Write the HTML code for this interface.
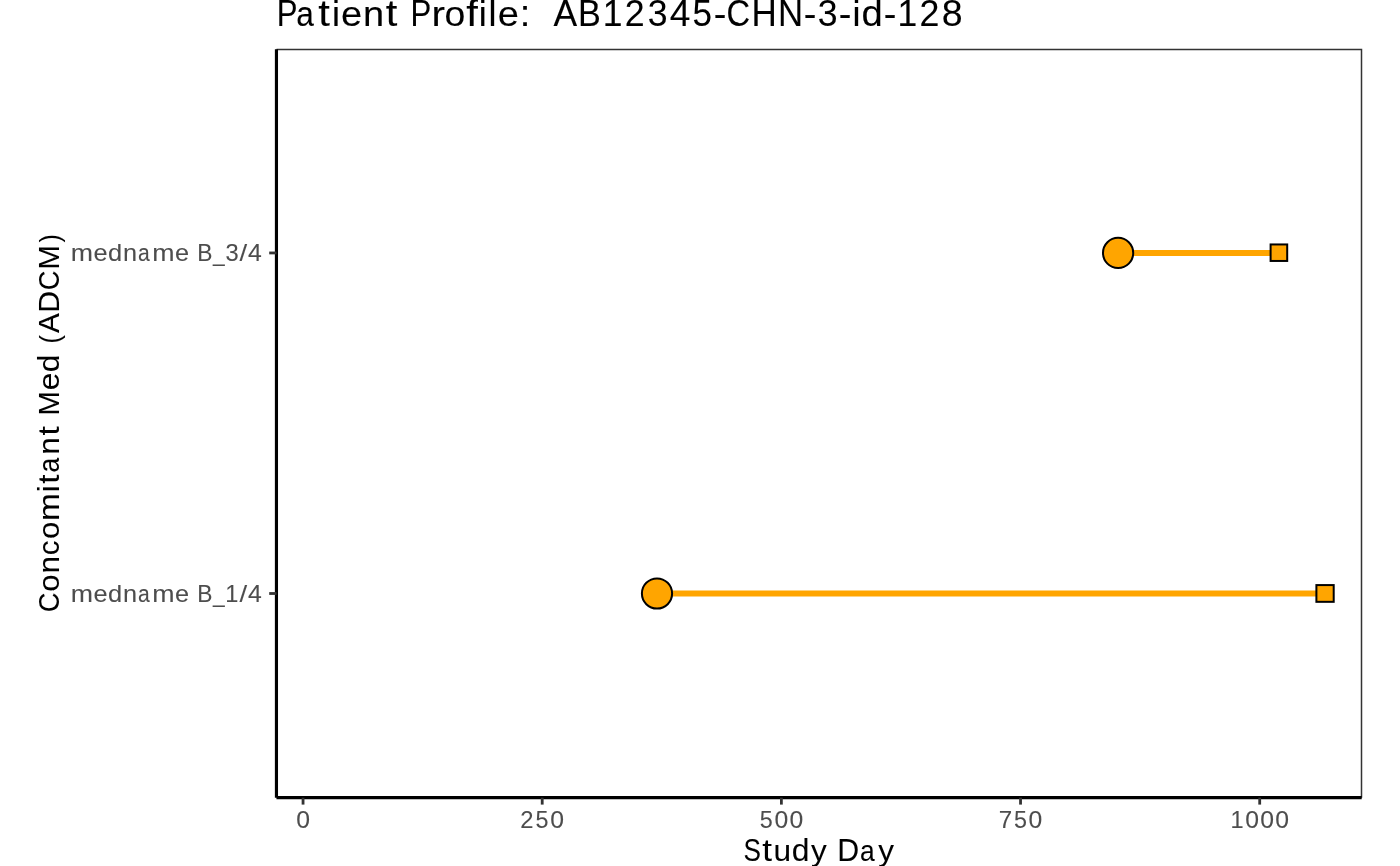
<!DOCTYPE html>
<html>
<head>
<meta charset="utf-8">
<title>Patient Profile: AB12345-CHN-3-id-128</title>
<style>
html,body{margin:0;padding:0;background:#fff;width:1400px;height:866px;overflow:hidden}
svg{display:block;will-change:transform}
text{font-family:"Liberation Sans", sans-serif;font-variant-ligatures:none;font-kerning:none}
</style>
</head>
<body>
<svg width="1400" height="866" viewBox="0 0 1400 866">
<rect x="0" y="0" width="1400" height="866" fill="#ffffff"/>
<text xml:space="preserve" transform="translate(275.96,26)" y="0" fill="#000000" stroke="#000000" stroke-width="0.1"><tspan x="0.90" font-size="36.30" textLength="20.76" lengthAdjust="spacingAndGlyphs">P</tspan><tspan x="20.41" font-size="35.30" textLength="17.60" lengthAdjust="spacingAndGlyphs">a</tspan><tspan x="42.21" font-size="36.30" textLength="11.60" lengthAdjust="spacingAndGlyphs">t</tspan><tspan x="55.93" font-size="35.30" textLength="7.99" lengthAdjust="spacingAndGlyphs">i</tspan><tspan x="65.12" font-size="35.30" textLength="21.15" lengthAdjust="spacingAndGlyphs">e</tspan><tspan x="87.13" font-size="35.30" textLength="21.11" lengthAdjust="spacingAndGlyphs">n</tspan><tspan x="109.75" font-size="36.30" textLength="11.60" lengthAdjust="spacingAndGlyphs">t</tspan><tspan x="122.56"> </tspan><tspan x="134.65" font-size="36.30" textLength="20.76" lengthAdjust="spacingAndGlyphs">P</tspan><tspan x="155.43" font-size="35.30" textLength="13.52" lengthAdjust="spacingAndGlyphs">r</tspan><tspan x="168.43" font-size="35.30" textLength="20.81" lengthAdjust="spacingAndGlyphs">o</tspan><tspan x="190.41" font-size="36.30" textLength="11.60" lengthAdjust="spacingAndGlyphs">f</tspan><tspan x="202.90" font-size="35.30" textLength="7.99" lengthAdjust="spacingAndGlyphs">i</tspan><tspan x="212.66" font-size="36.30" textLength="7.99" lengthAdjust="spacingAndGlyphs">l</tspan><tspan x="221.87" font-size="35.30" textLength="21.15" lengthAdjust="spacingAndGlyphs">e</tspan><tspan x="243.85" font-size="36.30" textLength="10.58" lengthAdjust="spacingAndGlyphs">:</tspan><tspan x="255.06"> </tspan><tspan x="266.25"> </tspan><tspan x="277.65" font-size="36.30" textLength="23.65" lengthAdjust="spacingAndGlyphs">A</tspan><tspan x="302.17" font-size="36.30" textLength="22.81" lengthAdjust="spacingAndGlyphs">B</tspan><tspan x="326.84" font-size="36.30" textLength="19.71" lengthAdjust="spacingAndGlyphs">1</tspan><tspan x="348.84" font-size="36.30" textLength="19.89" lengthAdjust="spacingAndGlyphs">2</tspan><tspan x="371.78" font-size="36.30" textLength="19.82" lengthAdjust="spacingAndGlyphs">3</tspan><tspan x="393.72" font-size="36.30" textLength="20.64" lengthAdjust="spacingAndGlyphs">4</tspan><tspan x="416.56" font-size="36.30" textLength="19.48" lengthAdjust="spacingAndGlyphs">5</tspan><tspan x="437.68" font-size="36.30" textLength="12.64" lengthAdjust="spacingAndGlyphs">-</tspan><tspan x="450.66" font-size="36.30" textLength="23.60" lengthAdjust="spacingAndGlyphs">C</tspan><tspan x="475.51" font-size="36.30" textLength="25.29" lengthAdjust="spacingAndGlyphs">H</tspan><tspan x="502.00" font-size="36.30" textLength="25.11" lengthAdjust="spacingAndGlyphs">N</tspan><tspan x="527.76" font-size="36.30" textLength="12.64" lengthAdjust="spacingAndGlyphs">-</tspan><tspan x="541.75" font-size="36.30" textLength="19.82" lengthAdjust="spacingAndGlyphs">3</tspan><tspan x="562.85" font-size="36.30" textLength="12.64" lengthAdjust="spacingAndGlyphs">-</tspan><tspan x="576.43" font-size="35.30" textLength="7.99" lengthAdjust="spacingAndGlyphs">i</tspan><tspan x="585.64" font-size="36.30" textLength="21.28" lengthAdjust="spacingAndGlyphs">d</tspan><tspan x="607.68" font-size="36.30" textLength="12.64" lengthAdjust="spacingAndGlyphs">-</tspan><tspan x="621.52" font-size="36.30" textLength="19.71" lengthAdjust="spacingAndGlyphs">1</tspan><tspan x="643.52" font-size="36.30" textLength="19.89" lengthAdjust="spacingAndGlyphs">2</tspan><tspan x="665.90" font-size="36.30" textLength="20.86" lengthAdjust="spacingAndGlyphs">8</tspan></text>
<path d="M276.5 49.4 H1361.5 V797.7" fill="none" stroke="#333333" stroke-width="1.5"/>
<line x1="1118.1" y1="252.95" x2="1278.9" y2="252.95" stroke="#FFA500" stroke-width="6.0"/>
<circle cx="1118.1" cy="252.95" r="15.1" fill="#FFA500" stroke="#000" stroke-width="2.0"/>
<rect x="1270.60" y="244.45" width="16.60" height="16.50" fill="#FFA500" stroke="#000" stroke-width="2.0"/>
<line x1="657.0" y1="593.5" x2="1325.05" y2="593.5" stroke="#FFA500" stroke-width="6.0"/>
<circle cx="657.0" cy="593.5" r="15.1" fill="#FFA500" stroke="#000" stroke-width="2.0"/>
<rect x="1316.40" y="585.08" width="17.30" height="16.75" fill="#FFA500" stroke="#000" stroke-width="2.0"/>
<line x1="276.45" y1="49.3" x2="276.45" y2="797.7" stroke="#000" stroke-width="3.15"/>
<line x1="276.45" y1="797.7" x2="1361.7" y2="797.7" stroke="#000" stroke-width="3.2"/>
<line x1="269.2" y1="252.95" x2="276.5" y2="252.95" stroke="#333333" stroke-width="2.8"/>
<line x1="269.2" y1="593.5" x2="276.5" y2="593.5" stroke="#333333" stroke-width="2.8"/>
<line x1="303.05" y1="797.7" x2="303.05" y2="804.6" stroke="#333333" stroke-width="2.8"/>
<line x1="542.21" y1="797.7" x2="542.21" y2="804.6" stroke="#333333" stroke-width="2.8"/>
<line x1="781.38" y1="797.7" x2="781.38" y2="804.6" stroke="#333333" stroke-width="2.8"/>
<line x1="1020.54" y1="797.7" x2="1020.54" y2="804.6" stroke="#333333" stroke-width="2.8"/>
<line x1="1259.70" y1="797.7" x2="1259.70" y2="804.6" stroke="#333333" stroke-width="2.8"/>
<text xml:space="preserve" transform="translate(70.50,261)" y="0" fill="#4D4D4D" stroke="#4D4D4D" stroke-width="0.08"><tspan x="0.36" font-size="23.90" textLength="22.27" lengthAdjust="spacingAndGlyphs">m</tspan><tspan x="23.08" font-size="23.90" textLength="14.10" lengthAdjust="spacingAndGlyphs">e</tspan><tspan x="37.52" font-size="23.90" textLength="14.18" lengthAdjust="spacingAndGlyphs">d</tspan><tspan x="52.64" font-size="23.90" textLength="14.07" lengthAdjust="spacingAndGlyphs">n</tspan><tspan x="67.58" font-size="23.90" textLength="11.74" lengthAdjust="spacingAndGlyphs">a</tspan><tspan x="81.80" font-size="23.90" textLength="22.27" lengthAdjust="spacingAndGlyphs">m</tspan><tspan x="104.52" font-size="23.90" textLength="14.10" lengthAdjust="spacingAndGlyphs">e</tspan><tspan x="118.74"> </tspan><tspan x="126.64" font-size="23.90" textLength="15.21" lengthAdjust="spacingAndGlyphs">B</tspan><tspan x="142.39" font-size="23.90" textLength="11.64" lengthAdjust="spacingAndGlyphs">_</tspan><tspan x="154.92" font-size="23.90" textLength="13.21" lengthAdjust="spacingAndGlyphs">3</tspan><tspan x="169.10" font-size="23.90" textLength="7.64" lengthAdjust="spacingAndGlyphs">/</tspan><tspan x="177.45" font-size="23.90" textLength="13.76" lengthAdjust="spacingAndGlyphs">4</tspan></text>
<text xml:space="preserve" transform="translate(70.50,602)" y="0" fill="#4D4D4D" stroke="#4D4D4D" stroke-width="0.08"><tspan x="0.36" font-size="23.90" textLength="22.27" lengthAdjust="spacingAndGlyphs">m</tspan><tspan x="23.08" font-size="23.90" textLength="14.10" lengthAdjust="spacingAndGlyphs">e</tspan><tspan x="37.52" font-size="23.90" textLength="14.18" lengthAdjust="spacingAndGlyphs">d</tspan><tspan x="52.64" font-size="23.90" textLength="14.07" lengthAdjust="spacingAndGlyphs">n</tspan><tspan x="67.58" font-size="23.90" textLength="11.74" lengthAdjust="spacingAndGlyphs">a</tspan><tspan x="81.80" font-size="23.90" textLength="22.27" lengthAdjust="spacingAndGlyphs">m</tspan><tspan x="104.52" font-size="23.90" textLength="14.10" lengthAdjust="spacingAndGlyphs">e</tspan><tspan x="118.74"> </tspan><tspan x="126.64" font-size="23.90" textLength="15.21" lengthAdjust="spacingAndGlyphs">B</tspan><tspan x="142.39" font-size="23.90" textLength="11.64" lengthAdjust="spacingAndGlyphs">_</tspan><tspan x="154.82" font-size="23.90" textLength="13.14" lengthAdjust="spacingAndGlyphs">1</tspan><tspan x="169.10" font-size="23.90" textLength="7.64" lengthAdjust="spacingAndGlyphs">/</tspan><tspan x="177.45" font-size="23.90" textLength="13.76" lengthAdjust="spacingAndGlyphs">4</tspan></text>
<text xml:space="preserve" transform="translate(295.58,828)" y="0" fill="#4D4D4D" stroke="#4D4D4D" stroke-width="0.08"><tspan x="0.58" font-size="23.90" textLength="13.76" lengthAdjust="spacingAndGlyphs">0</tspan></text>
<text xml:space="preserve" transform="translate(519.82,828)" y="0" fill="#4D4D4D" stroke="#4D4D4D" stroke-width="0.08"><tspan x="0.52" font-size="23.90" textLength="13.26" lengthAdjust="spacingAndGlyphs">2</tspan><tspan x="15.81" font-size="23.90" textLength="12.98" lengthAdjust="spacingAndGlyphs">5</tspan><tspan x="30.44" font-size="23.90" textLength="13.76" lengthAdjust="spacingAndGlyphs">0</tspan></text>
<text xml:space="preserve" transform="translate(758.98,828)" y="0" fill="#4D4D4D" stroke="#4D4D4D" stroke-width="0.08"><tspan x="0.88" font-size="23.90" textLength="12.98" lengthAdjust="spacingAndGlyphs">5</tspan><tspan x="15.51" font-size="23.90" textLength="13.76" lengthAdjust="spacingAndGlyphs">0</tspan><tspan x="30.44" font-size="23.90" textLength="13.76" lengthAdjust="spacingAndGlyphs">0</tspan></text>
<text xml:space="preserve" transform="translate(998.14,828)" y="0" fill="#4D4D4D" stroke="#4D4D4D" stroke-width="0.08"><tspan x="0.68" font-size="23.90" textLength="13.46" lengthAdjust="spacingAndGlyphs">7</tspan><tspan x="15.81" font-size="23.90" textLength="12.98" lengthAdjust="spacingAndGlyphs">5</tspan><tspan x="30.44" font-size="23.90" textLength="13.76" lengthAdjust="spacingAndGlyphs">0</tspan></text>
<text xml:space="preserve" transform="translate(1229.84,828)" y="0" fill="#4D4D4D" stroke="#4D4D4D" stroke-width="0.08"><tspan x="0.78" font-size="23.90" textLength="13.14" lengthAdjust="spacingAndGlyphs">1</tspan><tspan x="15.51" font-size="23.90" textLength="13.76" lengthAdjust="spacingAndGlyphs">0</tspan><tspan x="30.44" font-size="23.90" textLength="13.76" lengthAdjust="spacingAndGlyphs">0</tspan><tspan x="45.37" font-size="23.90" textLength="13.76" lengthAdjust="spacingAndGlyphs">0</tspan></text>
<text xml:space="preserve" transform="translate(742.83,861)" y="0" fill="#000000" stroke="#000000" stroke-width="0.06"><tspan x="0.75" font-size="30.50" textLength="17.44" lengthAdjust="spacingAndGlyphs">S</tspan><tspan x="19.40" font-size="30.50" textLength="9.74" lengthAdjust="spacingAndGlyphs">t</tspan><tspan x="30.56" font-size="30.30" textLength="17.59" lengthAdjust="spacingAndGlyphs">u</tspan><tspan x="48.99" font-size="30.50" textLength="17.73" lengthAdjust="spacingAndGlyphs">d</tspan><tspan x="68.13" font-size="30.30" textLength="15.75" lengthAdjust="spacingAndGlyphs">y</tspan><tspan x="84.69"> </tspan><tspan x="94.40" font-size="30.50" textLength="21.92" lengthAdjust="spacingAndGlyphs">D</tspan><tspan x="117.24" font-size="30.30" textLength="14.67" lengthAdjust="spacingAndGlyphs">a</tspan><tspan x="135.37" font-size="30.30" textLength="15.75" lengthAdjust="spacingAndGlyphs">y</tspan></text>
<text xml:space="preserve" transform="translate(59.10,612.57) rotate(-90)" y="0" fill="#000000" stroke="#000000" stroke-width="0.06"><tspan x="0.26" font-size="29.10" textLength="19.66" lengthAdjust="spacingAndGlyphs">C</tspan><tspan x="20.79" font-size="30.30" textLength="17.34" lengthAdjust="spacingAndGlyphs">o</tspan><tspan x="38.99" font-size="30.30" textLength="17.59" lengthAdjust="spacingAndGlyphs">n</tspan><tspan x="57.39" font-size="30.30" textLength="14.72" lengthAdjust="spacingAndGlyphs">c</tspan><tspan x="73.46" font-size="30.30" textLength="17.34" lengthAdjust="spacingAndGlyphs">o</tspan><tspan x="91.54" font-size="30.30" textLength="27.84" lengthAdjust="spacingAndGlyphs">m</tspan><tspan x="120.43" font-size="30.30" textLength="6.66" lengthAdjust="spacingAndGlyphs">i</tspan><tspan x="128.90" font-size="28.70" textLength="9.17" lengthAdjust="spacingAndGlyphs">t</tspan><tspan x="139.96" font-size="30.30" textLength="14.67" lengthAdjust="spacingAndGlyphs">a</tspan><tspan x="157.86" font-size="30.30" textLength="17.59" lengthAdjust="spacingAndGlyphs">n</tspan><tspan x="176.96" font-size="28.70" textLength="9.17" lengthAdjust="spacingAndGlyphs">t</tspan><tspan x="187.38"> </tspan><tspan x="197.19" font-size="29.10" textLength="24.36" lengthAdjust="spacingAndGlyphs">M</tspan><tspan x="222.29" font-size="30.30" textLength="17.62" lengthAdjust="spacingAndGlyphs">e</tspan><tspan x="240.34" font-size="28.70" textLength="17.73" lengthAdjust="spacingAndGlyphs">d</tspan><tspan x="258.68"> </tspan><tspan x="268.99" font-size="28.00" textLength="8.26" lengthAdjust="spacingAndGlyphs">(</tspan><tspan x="279.62" font-size="29.10" textLength="19.71" lengthAdjust="spacingAndGlyphs">A</tspan><tspan x="299.91" font-size="29.10" textLength="21.92" lengthAdjust="spacingAndGlyphs">D</tspan><tspan x="322.37" font-size="29.10" textLength="19.66" lengthAdjust="spacingAndGlyphs">C</tspan><tspan x="343.07" font-size="29.10" textLength="24.36" lengthAdjust="spacingAndGlyphs">M</tspan><tspan x="370.10" font-size="28.00" textLength="8.26" lengthAdjust="spacingAndGlyphs">)</tspan></text>
</svg>
</body>
</html>
